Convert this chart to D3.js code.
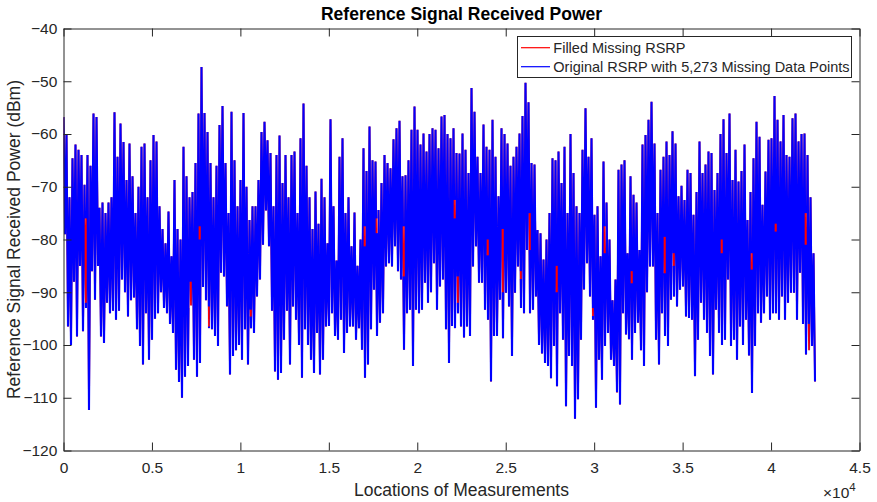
<!DOCTYPE html>
<html>
<head>
<meta charset="utf-8">
<script src="https://cdn.jsdelivr.net/npm/d3@7"></script>
<style>
body { margin: 0; background: #fff; }
text { font-family: "Liberation Sans", Arial, sans-serif; }
</style>
</head>
<body>
<svg id="chart" width="877" height="502"></svg>
<script>
/*
* RSRP trace, read off the figure as one high / low pair per column
* (each column covers binWidth measurement locations)
*/
var binWidth = 169.6;

var rsrpHigh = [
	-56.8, -60, -72, -64.6, -62, -63, -64, -69.6, -64, -66,
	-56.1, -56.8, -74, -73, -75, -73, -72, -55.9, -64.3, -58,
	-61.5, -68.7, -61.8, -68, -75, -70, -62.4, -61.8, -72, -65,
	-60.2, -61.4, -73.7, -78, -80.7, -74.7, -83.2, -68.7, -78, -80,
	-62.4, -68, -72, -71, -65.5, -56.1, -47.3, -56, -59.6, -65.5,
	-72, -66, -58.3, -54.7, -65.5, -75, -55.8, -65, -73.7, -68.7,
	-56, -70, -76.3, -73.7, -73.7, -68.7, -59.6, -57.7, -61.2, -63.6,
	-73.7, -64, -60.3, -69.3, -64, -72, -64, -63.3, -75, -60.8,
	-54.2, -66, -72, -78, -70.9, -77, -68.5, -72, -80.7, -57.2,
	-73.7, -84, -64.3, -60.8, -75, -72, -81.3, -74.9, -85, -80,
	-62.7, -67, -58.6, -65, -65.2, -74.4, -69.3, -64, -65.5, -66.5,
	-61, -58.9, -57.5, -68, -67.8, -65, -59.2, -54.8, -59.2, -62,
	-59.9, -63.3, -60, -58.9, -59.2, -62.7, -56.7, -56.4, -60, -60.8,
	-58.9, -63.6, -63.7, -59.9, -63, -67.4, -51.3, -55.8, -64.3, -67.4,
	-58.2, -62.4, -63, -57.3, -64.3, -71.8, -58.9, -60, -61.8, -66,
	-64.3, -62.4, -59.9, -56.6, -50.3, -54, -65.5, -65.8, -78.2, -78.8,
	-83.8, -80, -75, -64.6, -65, -63.3, -69.3, -62.4, -75, -60,
	-67.4, -73.7, -75, -63, -55.1, -64.3, -60.8, -75.3, -73.7, -83.2,
	-65.2, -73, -80, -91.5, -87.6, -66.8, -65.8, -65, -82.6, -68,
	-71.5, -73, -82, -62, -60.2, -57.3, -53.9, -61.8, -75, -66.8,
	-64.3, -61.4, -64, -59.5, -61.8, -71.8, -69.8, -72.5, -66.8, -67.4,
	-75.3, -71, -61.4, -67.4, -65.8, -63.3, -63.6, -70.6, -67.4, -60,
	-57.2, -63.6, -56.1, -68.7, -63, -69, -67, -62, -76.3, -71,
	-64.6, -57.7, -60.5, -73.4, -67.1, -61.1, -60.8, -52.8, -57.3, -61.4,
	-56.4, -64, -64.3, -57, -56.1, -61.4, -60, -59.9, -64, -72,
	-82.6
];

var rsrpLow = [
	-79, -96.5, -100, -88, -98.4, -85, -97.4, -93, -112.3, -86,
	-91.4, -85, -98.4, -99.6, -92, -94, -93.5, -95.2, -93.5, -87.6,
	-90, -94.6, -91.5, -91, -97, -100.2, -103.7, -94, -102.8, -99,
	-95, -94, -90, -93, -94, -96, -97.7, -104.7, -107, -110,
	-106, -104, -92.5, -102.8, -106, -103.4, -89, -91.5, -96.8, -97,
	-98.3, -100.2, -86.3, -87, -92.7, -105.6, -102.1, -101, -100, -102.8,
	-97, -103.7, -96.8, -97.7, -90.8, -87.6, -81, -74.5, -81.3, -93.5,
	-105, -106.6, -105.3, -99, -93.5, -103.7, -92.7, -95.2, -100, -106.2,
	-97, -100, -102.8, -105.3, -97.7, -105.6, -102.8, -96.5, -96.4, -94,
	-98.3, -99, -95.2, -101.5, -97.7, -96.5, -96.5, -99, -96.8, -100.9,
	-106.2, -103.7, -97, -89.5, -98.3, -95.8, -94, -85.1, -84.5, -85.1,
	-81.3, -86, -87.6, -100.9, -94, -93.3, -104, -93.3, -94, -93.3,
	-88.2, -92, -90, -84.5, -93.3, -88.9, -87.6, -97, -103.4, -96.4,
	-96.8, -94, -96.5, -98.6, -96.5, -98.3, -85.1, -81.3, -88.2, -88.2,
	-93.3, -95.2, -106.9, -98.3, -98.3, -91.4, -98.7, -90.1, -92.7, -102.1,
	-90.1, -85.1, -93, -94, -82, -94, -93.3, -90.8, -100, -101.6,
	-103.4, -104, -106.3, -100.2, -107.8, -94, -99, -111.6, -102.1, -104,
	-114, -110.3, -99, -89.5, -84.5, -90.8, -95.2, -111.9, -102.8, -106.6,
	-100.2, -97.7, -102.8, -104, -109, -111.3, -94, -98, -98.9, -102.8,
	-97.7, -95.8, -101, -104, -90, -85.1, -85.1, -99, -103.7, -94,
	-98.3, -100.2, -91.4, -90.8, -92.7, -89.5, -88.9, -94.6, -94.9, -95.2,
	-105.9, -99, -92, -95.2, -97.7, -102.1, -105.6, -93.3, -97.7, -100,
	-99, -87.6, -100.2, -99, -102.8, -96.5, -100, -95.2, -102, -109.1,
	-100.2, -94, -95.8, -94, -90.8, -95.2, -94, -94, -95.2, -90.8,
	-95.2, -92, -90.1, -90.1, -95.2, -86.3, -96, -101.8, -101, -100.2,
	-106.9
];

// stretches missing in the original data: column, upper and lower dBm of the filled part
var gapCols   = [7, 42, 45, 48, 54, 62, 100, 104, 113, 130, 131, 141, 146, 152, 155, 164, 176, 180, 184, 189, 200, 203, 219, 229, 237, 247, 248];
var gapTop    = [-76, -88, -77.5, -92.7, -92.7, -93.3, -77.5, -76, -77.5, -72.5, -87, -80, -78, -86, -75, -85, -93, -77.5, -109, -86, -79.5, -82.6, -80, -82.6, -77, -75, -96];
var gapBottom = [-92, -93, -80, -96.5, -95.2, -94.6, -81.3, -78.8, -87, -76, -92, -83, -90, -87.5, -82, -90, -94.5, -82.6, -111, -88.3, -86.4, -85, -82.6, -85.7, -78.5, -81, -101.5];

var xTicks = [0, 5000, 10000, 15000, 20000, 25000, 30000, 35000, 40000, 45000];
var xTickLabels = ["0", "0.5", "1", "1.5", "2", "2.5", "3", "3.5", "4", "4.5"];
var yTicks = [-120, -110, -100, -90, -80, -70, -60, -50, -40];

var seriesNames = ["Filled Missing RSRP", "Original RSRP with 5,273 Missing Data Points"];
var seriesColors = ["#ff0000", "#0000ff"];

var svg = d3.select("#chart");
var ink = "#262626";
var plot = { left: 63.5, right: 859.5, top: 28.5, bottom: 450.5 };

var x = d3.scaleLinear().domain([0, 45000]).range([plot.left, plot.right]);
var y = d3.scaleLinear().domain([-120, -40]).range([plot.bottom, plot.top]);

/* ordered samples: high then low inside each column */
var samples = [];
rsrpHigh.forEach(function(h, c) {
	samples.push({ loc: c * binWidth, v: h });
	samples.push({ loc: (c + 0.5) * binWidth, v: rsrpLow[c] });
});

var defs = svg.append("defs");

defs.append("clipPath").attr("id", "plotclip")
	.append("rect")
	.attr("x", plot.left).attr("y", plot.top)
	.attr("width", plot.right - plot.left).attr("height", plot.bottom - plot.top);

/* mask that punches the missing stretches out of the original trace */
var mask = defs.append("mask").attr("id", "gapmask")
	.attr("maskUnits", "userSpaceOnUse")
	.attr("x", 0).attr("y", 0).attr("width", 877).attr("height", 502);
mask.append("rect").attr("x", 0).attr("y", 0).attr("width", 877).attr("height", 502).attr("fill", "#fff");
gapCols.forEach(function(c, i) {
	mask.append("rect")
		.attr("x", x((c + 0.05) * binWidth))
		.attr("width", x((c + 0.75) * binWidth) - x((c + 0.05) * binWidth))
		.attr("y", y(gapTop[i]))
		.attr("height", y(gapBottom[i]) - y(gapTop[i]))
		.attr("fill", "#000");
});

svg.insert("rect", "defs")
	.attr("x", 0).attr("y", 0).attr("width", 877).attr("height", 502)
	.attr("fill", "#fff");

var line = d3.line()
	.x(function(d) { return x(d.loc); })
	.y(function(d) { return y(d.v); });

var dataG = svg.append("g").attr("clip-path", "url(#plotclip)");

// filled trace underneath
dataG.append("path")
	.attr("d", line(samples))
	.attr("fill", "none")
	.attr("stroke", seriesColors[0])
	.attr("stroke-width", 1.8);

// original trace on top, with the missing stretches masked out
dataG.append("g").attr("mask", "url(#gapmask)")
	.append("path")
	.attr("d", line(samples))
	.attr("fill", "none")
	.attr("stroke", seriesColors[1])
	.attr("stroke-width", 2.1);

/* axes, ticks pointing inward on all four sides */
function styleAxis(g) {
	g.attr("font-family", "Liberation Sans, Arial, sans-serif").attr("font-size", 15.5);
	g.selectAll("path, line").attr("stroke", ink).attr("stroke-width", 1);
	g.selectAll("text").attr("fill", ink);
}

svg.append("g")
	.attr("transform", "translate(0," + plot.bottom + ")")
	.call(d3.axisBottom(x).tickValues(xTicks)
		.tickFormat(function(d, i) { return xTickLabels[i]; })
		.tickSizeInner(-8).tickSizeOuter(0).tickPadding(11.5))
	.call(styleAxis);

svg.append("g")
	.attr("transform", "translate(0," + plot.top + ")")
	.call(d3.axisTop(x).tickValues(xTicks).tickFormat("")
		.tickSizeInner(-8).tickSizeOuter(0))
	.call(styleAxis);

svg.append("g")
	.attr("transform", "translate(" + plot.left + ",0)")
	.call(d3.axisLeft(y).tickValues(yTicks).tickFormat(d3.format("d"))
		.tickSizeInner(-8).tickSizeOuter(0).tickPadding(6.2))
	.call(styleAxis);

svg.append("g")
	.attr("transform", "translate(" + plot.right + ",0)")
	.call(d3.axisRight(y).tickValues(yTicks).tickFormat("")
		.tickSizeInner(-8).tickSizeOuter(0))
	.call(styleAxis);

/* titles */
svg.append("text")
	.attr("x", (plot.left + plot.right) / 2).attr("y", 19.5)
	.attr("text-anchor", "middle")
	.attr("font-size", 17.5).attr("font-weight", "bold")
	.attr("fill", "#000")
	.text("Reference Signal Received Power");

svg.append("text")
	.attr("x", (plot.left + plot.right) / 2).attr("y", 496)
	.attr("text-anchor", "middle")
	.attr("font-size", 17.5)
	.attr("fill", ink)
	.text("Locations of Measurements");

svg.append("text")
	.attr("transform", "translate(20," + (plot.top + plot.bottom) / 2 + ") rotate(-90)")
	.attr("text-anchor", "middle")
	.attr("font-size", 17.5)
	.attr("fill", ink)
	.text("Reference Signal Received Power (dBm)");

var expo = svg.append("text")
	.attr("x", 823).attr("y", 498)
	.attr("font-size", 15.5)
	.attr("fill", ink);
expo.append("tspan").text("\u00d710");
expo.append("tspan").attr("font-size", 11.5).attr("dy", -7).text("4");

/* legend */
var leg = svg.append("g");
leg.append("rect")
	.attr("x", 517.5).attr("y", 36.5).attr("width", 334).attr("height", 41)
	.attr("fill", "#fff").attr("stroke", ink).attr("stroke-width", 1);

seriesNames.forEach(function(name, i) {
	var ly = 47.7 + i * 19;
	leg.append("line")
		.attr("x1", 521).attr("x2", 550).attr("y1", ly).attr("y2", ly)
		.attr("stroke", seriesColors[i]).attr("stroke-width", 1.2);
	leg.append("text")
		.attr("x", 553.3).attr("y", ly + 5.4)
		.attr("font-size", 14.5)
		.attr("fill", ink)
		.text(name);
});
</script>
</body>
</html>
